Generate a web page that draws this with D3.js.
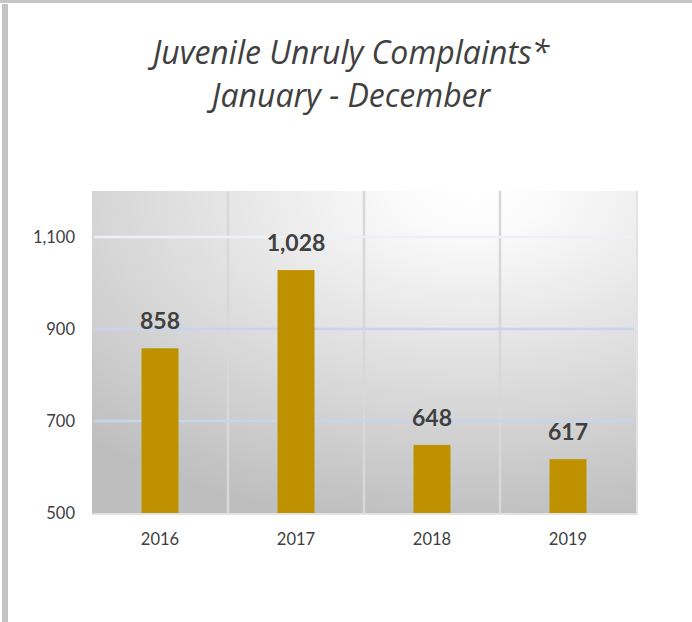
<!DOCTYPE html>
<html>
<head>
<meta charset="utf-8">
<script src="https://cdn.jsdelivr.net/npm/d3@7"></script>
<style>
  body { margin: 0; background: #ffffff; }
  svg { display: block; }
</style>
</head>
<body>
<svg id="chart" width="692" height="622"></svg>
<script>
// chart data
var years = ["2016", "2017", "2018", "2019"];
var complaints = [858, 1028, 648, 617];
var yTicks = [500, 700, 900, 1100];
var titleLines = ["Juvenile Unruly Complaints*", "January - December"];

var svg = d3.select("#chart");
var W = 692, H = 622;
var plot = { left: 92, right: 636, top: 191, bottom: 513 };

// frame edges of the screenshot
svg.append("rect").attr("x", 0).attr("y", 0).attr("width", W).attr("height", 3).attr("fill", "#c6c6c6");
svg.append("rect").attr("x", 2).attr("y", 4).attr("width", 6).attr("height", H - 4).attr("fill", "#c4c4c4");

var defs = svg.append("defs");
var bg = defs.append("radialGradient")
    .attr("id", "plotBg")
    .attr("cx", 0.7).attr("cy", 0)
    .attr("r", 1.05);
bg.append("stop").attr("offset", 0).attr("stop-color", "#ffffff");
bg.append("stop").attr("offset", 0.12).attr("stop-color", "#fbfbfb");
bg.append("stop").attr("offset", 1).attr("stop-color", "#bebebe");

var gridGrad = defs.append("linearGradient")
    .attr("id", "gridCol")
    .attr("gradientUnits", "userSpaceOnUse")
    .attr("x1", 0).attr("y1", plot.top).attr("x2", 0).attr("y2", plot.bottom);
gridGrad.append("stop").attr("offset", 0.1).attr("stop-color", "#f6f6fa");
gridGrad.append("stop").attr("offset", 0.35).attr("stop-color", "#c8d5ec");
gridGrad.append("stop").attr("offset", 1).attr("stop-color", "#c6d3ea");

var x = d3.scaleBand()
    .domain(years)
    .range([plot.left, plot.right])
    .padding(0);

var y = d3.scaleLinear()
    .domain([500, 1200])
    .range([plot.bottom, plot.top]);

// plot area
svg.append("rect")
    .attr("x", plot.left).attr("y", plot.top)
    .attr("width", plot.right - plot.left).attr("height", plot.bottom - plot.top)
    .attr("fill", "url(#plotBg)");

// soft right / bottom edge
svg.append("line")
    .attr("x1", plot.right + 1).attr("x2", plot.right + 1)
    .attr("y1", plot.top).attr("y2", plot.bottom + 2)
    .attr("stroke", "#e2e2e2").attr("stroke-width", 2);
svg.append("line")
    .attr("x1", plot.left).attr("x2", plot.right + 2)
    .attr("y1", plot.bottom + 1).attr("y2", plot.bottom + 1)
    .attr("stroke", "#e2e2e2").attr("stroke-width", 2);

// vertical separators between categories
svg.selectAll(".vgrid")
    .data(years.slice(1))
    .enter()
    .append("line")
    .attr("class", "vgrid")
    .attr("x1", function(d) { return x(d); })
    .attr("x2", function(d) { return x(d); })
    .attr("y1", plot.top)
    .attr("y2", plot.bottom)
    .attr("stroke", "#d8d8d8")
    .attr("stroke-width", 2.5);

// horizontal gridlines
svg.selectAll(".hgrid")
    .data(yTicks.slice(1))
    .enter()
    .append("line")
    .attr("class", "hgrid")
    .attr("x1", plot.left + 2)
    .attr("x2", plot.right - 2)
    .attr("y1", function(d) { return y(d); })
    .attr("y2", function(d) { return y(d); })
    .attr("stroke", "url(#gridCol)")
    .attr("stroke-width", 2.5);

// bars
var barW = x.bandwidth() * 0.272;
svg.selectAll(".bar")
    .data(complaints)
    .enter()
    .append("rect")
    .attr("class", "bar")
    .attr("x", function(d, i) { return x(years[i]) + x.bandwidth() / 2 - barW / 2; })
    .attr("y", function(d) { return y(d); })
    .attr("width", barW)
    .attr("height", function(d) { return y(500) - y(d); })
    .attr("fill", "#bf9000");

// value labels
svg.selectAll(".val")
    .data(complaints)
    .enter()
    .append("text")
    .attr("class", "val")
    .attr("x", function(d, i) { return x(years[i]) + x.bandwidth() / 2; })
    .attr("y", function(d) { return y(d) - 19; })
    .attr("text-anchor", "middle")
    .style("font-family", "Lato, 'Open Sans', sans-serif")
    .style("font-weight", "bold")
    .style("font-size", "23px")
    .style("fill", "#404040")
    .text(function(d) { return d3.format(",")(d); });

// y axis labels
var yAxis = d3.axisLeft(y).tickValues(yTicks).tickFormat(d3.format(",")).tickSize(0).tickPadding(17);
var gy = svg.append("g").attr("transform", "translate(" + plot.left + ",0)").call(yAxis);
gy.select(".domain").remove();
gy.selectAll("text")
    .style("font-family", "Lato, 'Open Sans', sans-serif")
    .style("font-size", "16.5px")
    .style("fill", "#404040");

// x axis labels
var xAxis = d3.axisBottom(x).tickSize(0).tickPadding(20);
var gx = svg.append("g").attr("transform", "translate(0," + plot.bottom + ")").call(xAxis);
gx.select(".domain").remove();
gx.selectAll("text")
    .style("font-family", "Lato, 'Open Sans', sans-serif")
    .style("font-size", "16.5px")
    .style("fill", "#404040");

// title
svg.selectAll(".title")
    .data(titleLines)
    .enter()
    .append("text")
    .attr("class", "title")
    .attr("x", 351)
    .attr("y", function(d, i) { return 64 + i * 43; })
    .attr("text-anchor", "middle")
    .style("font-family", "'Open Sans', Lato, sans-serif")
    .style("font-style", "italic")
    .style("font-size", "32px")
    .style("fill", "#404040")
    .text(function(d) { return d; });
</script>
</body>
</html>
